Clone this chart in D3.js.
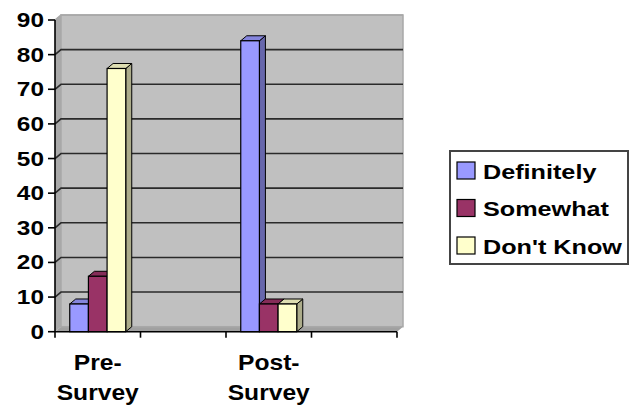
<!DOCTYPE html>
<html>
<head>
<meta charset="utf-8">
<script src="https://cdn.jsdelivr.net/npm/d3@7"></script>
<style>
  body { margin: 0; background: #fff; }
  text { font-family: "Liberation Sans", Arial, sans-serif; font-weight: bold; fill: #000; }
</style>
</head>
<body>
<svg id="chart" width="631" height="409"></svg>
<script>
// data
var categories = ["Pre-Survey", "", "Post-Survey", ""];
var seriesNames = ["Definitely", "Somewhat", "Don't Know"];
var definitely = [8, null, 84, null];
var somewhat = [16, null, 8, null];
var dontKnow = [76, null, 8, null];
var yTicks = [0, 10, 20, 30, 40, 50, 60, 70, 80, 90];

var seriesValues = [definitely, somewhat, dontKnow];
var colors = ["#9999ff", "#993366", "#ffffcc"];

//layout
var svg = d3.select("#chart");
var x0 = 55, x1 = 397, yBottom = 331.7, yTop = 20;
var dx = 6, dy = -5; // 3d depth offset

var x = d3.scaleBand().domain(d3.range(categories.length)).range([x0, x1]).paddingInner(0).paddingOuter(0);
var xs = d3.scaleBand().domain(d3.range(seriesNames.length))
    .range([0, x.bandwidth() * 0.655]);
var y = d3.scaleLinear().domain([0, 90]).range([yBottom, yTop]);

// walls
svg.append("polygon") // left side wall
    .attr("points", [[x0, yTop], [x0 + dx, yTop + dy], [x0 + dx, yBottom + dy], [x0, yBottom]].join(" "))
    .attr("fill", "#a9a9a9");
svg.append("polygon") // floor
    .attr("points", [[x0, yBottom], [x0 + dx, yBottom + dy], [x1 + dx, yBottom + dy], [x1, yBottom]].join(" "))
    .attr("fill", "#a0a0a0");
svg.append("rect") // back wall
    .attr("x", x0 + dx).attr("y", yTop + dy)
    .attr("width", x1 - x0).attr("height", yBottom - yTop)
    .attr("fill", "#c0c0c0")
    .attr("stroke", "#a8a8a8").attr("stroke-width", 1.5);

// gridlines
var grid = svg.append("g");
yTicks.filter(function (d) { return d > 0; }).forEach(function (t) {
    grid.append("path")
        .attr("d", "M" + x0 + "," + y(t) + "L" + (x0 + dx) + "," + (y(t) + dy) + "L" + (x1 + dx) + "," + (y(t) + dy))
        .attr("fill", "none")
        .attr("stroke", t === 90 ? "#a8a8a8" : "#2a2a2a")
        .attr("stroke-width", 1.6);
});

// bars
var bars = svg.append("g");
categories.forEach(function (c, ci) {
    var groupW = x.bandwidth() * 0.655;
    var gx = x(ci) + (x.bandwidth() - groupW) / 2;
    seriesValues.forEach(function (vals, si) {
        var v = vals[ci];
        if (v == null) return;
        var bx = gx + xs(si), bw = xs.bandwidth(), by = y(v), bb = y(0);
        var base = d3.color(colors[si]);
        // side
        bars.append("polygon")
            .attr("points", [[bx + bw, by], [bx + bw + dx, by + dy], [bx + bw + dx, bb + dy], [bx + bw, bb]].join(" "))
            .attr("fill", base.darker(1.1)).attr("stroke", "#000").attr("stroke-width", 1);
        // top
        bars.append("polygon")
            .attr("points", [[bx, by], [bx + dx, by + dy], [bx + bw + dx, by + dy], [bx + bw, by]].join(" "))
            .attr("fill", base.darker(0.4)).attr("stroke", "#000").attr("stroke-width", 1);
        // front
        bars.append("rect")
            .attr("x", bx).attr("y", by).attr("width", bw).attr("height", bb - by)
            .attr("fill", colors[si]).attr("stroke", "#000").attr("stroke-width", 1.2);
    });
});

// y axis
var yAxisG = svg.append("g");
yAxisG.append("line").attr("x1", x0).attr("x2", x0).attr("y1", yTop).attr("y2", yBottom)
    .attr("stroke", "#000").attr("stroke-width", 1.6);
yTicks.forEach(function (t) {
    yAxisG.append("line").attr("x1", x0 - 7).attr("x2", x0).attr("y1", y(t)).attr("y2", y(t))
        .attr("stroke", "#000").attr("stroke-width", 1.6);
    yAxisG.append("text")
        .attr("transform", "translate(44," + (y(t) + 7) + ") scale(1.22,1)")
        .attr("text-anchor", "end")
        .attr("font-size", 20)
        .text(t);
});

// x axis
var xAxisG = svg.append("g");
xAxisG.append("line").attr("x1", x0).attr("x2", x1).attr("y1", yBottom).attr("y2", yBottom)
    .attr("stroke", "#000").attr("stroke-width", 1.6);
d3.range(categories.length + 1).forEach(function (i) {
    var tx = i < categories.length ? x(i) : x1;
    xAxisG.append("line").attr("x1", tx).attr("x2", tx).attr("y1", yBottom).attr("y2", yBottom + 6)
        .attr("stroke", "#000").attr("stroke-width", 1.6);
});
categories.forEach(function (c, ci) {
    if (!c) return;
    var parts = c.split("-");
    var lines = [parts[0] + "-", parts[1]];
    var t = xAxisG.append("text")
        .attr("text-anchor", "middle")
        .attr("font-size", 22)
        .attr("transform", "translate(" + (x(ci) + x.bandwidth() / 2) + ",0) scale(1.12,1)");
    lines.forEach(function (l, li) {
        t.append("tspan").attr("x", 0).attr("y", 370 + li * 30).text(l);
    });
});

// legend
var legend = svg.append("g");
legend.append("rect").attr("x", 450).attr("y", 151).attr("width", 178).attr("height", 113)
    .attr("fill", "#fff").attr("stroke", "#444").attr("stroke-width", 2);
seriesNames.forEach(function (name, i) {
    var ly = 162 + i * 37.5;
    legend.append("rect").attr("x", 457).attr("y", ly).attr("width", 18).attr("height", 17)
        .attr("fill", colors[i]).attr("stroke", "#000").attr("stroke-width", 1.2);
    legend.append("text")
        .attr("transform", "translate(483," + (ly + 16.5) + ") scale(1.2,1)")
        .attr("font-size", 21)
        .text(name);
});
</script>
</body>
</html>
